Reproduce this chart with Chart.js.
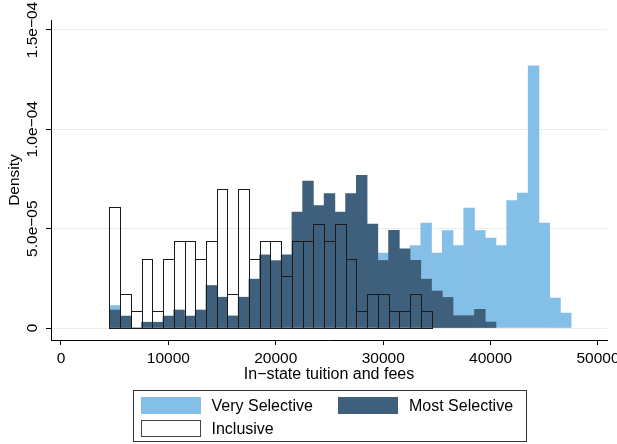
<!DOCTYPE html>
<html>
<head>
<meta charset="utf-8">
<script src="https://cdn.jsdelivr.net/npm/chart.js@4.4.0/dist/chart.umd.min.js"></script>
<style>
  body { margin: 0; background: #fff; }
  #wrap { position: relative; width: 617px; height: 444px; }
  #legend { position: absolute; left: 133px; top: 390px; width: 394px; height: 52px; box-sizing: border-box;
            border: 1px solid #333; font: 16px "Liberation Sans", Arial, sans-serif; color: #000; }
  #legend .sw { position: absolute; width: 60px; height: 17px; box-sizing: border-box; }
  #legend .lb { position: absolute; line-height: 17px; white-space: nowrap; }
</style>
</head>
<body>
<div id="wrap">
  <canvas id="chart" width="617" height="444"></canvas>
  <div id="legend"></div>
</div>
<script>
// histogram bins: width 1000, first bin 4500-5500
var binCenters = [5000, 6000, 7000, 8000, 9000, 10000, 11000, 12000, 13000, 14000,
                  15000, 16000, 17000, 18000, 19000, 20000, 21000, 22000, 23000, 24000,
                  25000, 26000, 27000, 28000, 29000, 30000, 31000, 32000, 33000, 34000,
                  35000, 36000, 37000, 38000, 39000, 40000, 41000, 42000, 43000, 44000,
                  45000, 46000, 47000];

var seriesLabels = ['Very Selective', 'Most Selective', 'Inclusive'];

// densities (null = no bar)
var verySelective = [1.13e-5, 3.8e-6, 0, 0, 0, 3.8e-6, 3.8e-6, 0, 7.5e-6, 7.5e-6,
                     3.8e-6, 3.8e-6, 1.13e-5, 7.5e-6, 1.13e-5, 1.51e-5, 1.51e-5, 1.88e-5, 2.26e-5, 2.26e-5,
                     2.64e-5, 3.01e-5, 3.01e-5, 3.39e-5, 3.77e-5, 3.77e-5, 3.77e-5, 3.39e-5, 4.15e-5, 5.28e-5,
                     3.77e-5, 4.90e-5, 4.15e-5, 6.03e-5, 4.90e-5, 4.52e-5, 4.15e-5, 6.41e-5, 6.79e-5, 1.32e-4,
                     5.28e-5, 1.51e-5, 7.5e-6];

var mostSelective = [9.05e-6, 6.0e-6, 0, 2.9e-6, 2.9e-6, 6.0e-6, 9.05e-6, 6.0e-6, 9.05e-6, 2.14e-5,
                     1.55e-5, 6.1e-6, 1.55e-5, 2.46e-5, 3.68e-5, 3.39e-5, 3.68e-5, 5.84e-5, 7.39e-5, 6.16e-5,
                     6.77e-5, 5.84e-5, 6.77e-5, 7.69e-5, 5.23e-5, 3.40e-5, 4.91e-5, 3.98e-5, 3.40e-5, 2.46e-5,
                     1.86e-5, 1.54e-5, 6.2e-6, 6.2e-6, 9.4e-6, 3.0e-6, null, null, null, null,
                     null, null, null];

var inclusive = [6.1e-5, 1.72e-5, 8.6e-6, 3.48e-5, 8.6e-6, 3.48e-5, 4.36e-5, 4.36e-5, 3.48e-5, 4.36e-5,
                 6.98e-5, 1.72e-5, 6.98e-5, 3.48e-5, 4.36e-5, 4.36e-5, 2.61e-5, 4.36e-5, 4.36e-5, 5.23e-5,
                 4.36e-5, 5.23e-5, 3.48e-5, 8.6e-6, 1.72e-5, 1.72e-5, 8.6e-6, 8.6e-6, 1.72e-5, 8.6e-6,
                 null, null, null, null, null, null, null, null, null, null,
                 null, null, null];

var xTicks = [0, 10000, 20000, 30000, 40000, 50000];
var yTicks = [0, 5e-5, 1e-4, 1.5e-4];
var yTickLabels = ['0', '5.0e\u221205', '1.0e\u221204', '1.5e\u221204'];

var lightBlue = '#84BFE8';
var darkBlue = '#3F607D';
var outlineColor = '#1a1a1a';
var fontFamily = '"Liberation Sans", Arial, Helvetica, sans-serif';

Chart.defaults.font.family = fontFamily;
Chart.defaults.color = '#000';

function toPoints(values) {
    return binCenters.map(function (c, i) { return {x: c, y: values[i]}; });
}

// y tick labels are rotated like in Stata, drawn here
var yLabelPlugin = {
    id: 'yLabels',
    afterDraw: function (chart) {
        var ctx = chart.ctx, y = chart.scales.y;
        ctx.save();
        ctx.font = '15.5px ' + fontFamily;
        ctx.fillStyle = '#000';
        ctx.textAlign = 'center';
        ctx.textBaseline = 'middle';
        yTicks.forEach(function (v, i) {
            ctx.save();
            ctx.translate(33, y.getPixelForValue(v));
            ctx.rotate(-Math.PI / 2);
            ctx.fillText(yTickLabels[i], 0, 0);
            ctx.restore();
        });
        ctx.restore();
    }
};

// hollow bars: stroke each bar's outline so neighbours share one 1px edge
var outlinePlugin = {
    id: 'outlines',
    afterDatasetsDraw: function (chart) {
        var ctx = chart.ctx;
        var meta = chart.getDatasetMeta(2);
        ctx.save();
        ctx.strokeStyle = outlineColor;
        ctx.lineWidth = 1;
        meta.data.forEach(function (el, i) {
            if (inclusive[i] === null) return;
            var p = el.getProps(['x', 'y', 'base', 'width'], true);
            var l = Math.round(p.x - p.width / 2) + 0.5;
            var r = Math.round(p.x + p.width / 2) + 0.5;
            var t = Math.round(p.y) + 0.5;
            var b = Math.round(p.base) + 0.5;
            ctx.strokeRect(l, t, r - l, b - t);
        });
        ctx.restore();
    }
};

var ctx = document.getElementById('chart');
var myChart = new Chart(ctx, {
    type: 'bar',
    data: {
        datasets: [{
            label: seriesLabels[0],
            data: toPoints(verySelective),
            backgroundColor: lightBlue,
            borderWidth: 0,
            order: 3
        }, {
            label: seriesLabels[1],
            data: toPoints(mostSelective),
            backgroundColor: darkBlue,
            borderWidth: 0,
            order: 2
        }, {
            label: seriesLabels[2],
            data: toPoints(inclusive),
            backgroundColor: 'rgba(0,0,0,0)',
            borderWidth: 0,
            inflateAmount: 0,
            order: 1
        }]
    },
    options: {
        responsive: false,
        animation: false,
        devicePixelRatio: 1,
        datasets: {
            bar: {grouped: false, barPercentage: 1.0, categoryPercentage: 1.0}
        },
        layout: {padding: {left: 0, right: 10, top: 20, bottom: 59}},
        plugins: {
            legend: {display: false},
            tooltip: {enabled: false}
        },
        scales: {
            x: {
                type: 'linear',
                offset: false,
                min: -931,
                max: 50838,
                afterBuildTicks: function (scale) {
                    scale.ticks = xTicks.map(function (v) { return {value: v}; });
                },
                afterFit: function (scale) {
                    scale.height = 45;
                    scale.paddingLeft = 0;
                    scale.paddingRight = 0;
                },
                ticks: {
                    autoSkip: false,
                    maxRotation: 0,
                    padding: 4,
                    font: {size: 15.5},
                    callback: function (v) { return String(v); }
                },
                grid: {offset: false, drawOnChartArea: false, tickLength: 5, tickColor: '#000'},
                border: {display: true, color: '#000', width: 1},
                title: {display: true, text: 'In\u2212state tuition and fees', font: {size: 16}, padding: {top: 0, bottom: 1}}
            },
            y: {
                min: -6.04e-6,
                max: 1.5503e-4,
                afterBuildTicks: function (scale) {
                    scale.ticks = yTicks.map(function (v) { return {value: v}; });
                },
                afterFit: function (scale) {
                    scale.width = 51;
                    scale.paddingTop = 0;
                    scale.paddingBottom = 0;
                },
                ticks: {display: false},
                grid: {color: '#E8EFF1', lineWidth: 1, tickLength: 5, tickColor: '#000'},
                border: {display: true, color: '#000', width: 1},
                title: {display: true, text: 'Density', font: {size: 15.5}, padding: {top: 5, bottom: 0}}
            }
        }
    },
    plugins: [outlinePlugin, yLabelPlugin]
});

// legend box laid out like the Stata legend (two columns)
var legendItems = [
    {label: seriesLabels[0], fill: lightBlue, border: lightBlue, left: 6.5, top: 6},
    {label: seriesLabels[1], fill: darkBlue, border: darkBlue, left: 204, top: 6},
    {label: seriesLabels[2], fill: '#fff', border: '#444', left: 6.5, top: 29}
];
var legend = document.getElementById('legend');
legendItems.forEach(function (it) {
    var sw = document.createElement('div');
    sw.className = 'sw';
    sw.style.left = it.left + 'px';
    sw.style.top = it.top + 'px';
    sw.style.background = it.fill;
    sw.style.border = '1px solid ' + it.border;
    legend.appendChild(sw);
    var lb = document.createElement('span');
    lb.className = 'lb';
    lb.style.left = (it.left + 71) + 'px';
    lb.style.top = it.top + 'px';
    lb.textContent = it.label;
    legend.appendChild(lb);
});
</script>
</body>
</html>
